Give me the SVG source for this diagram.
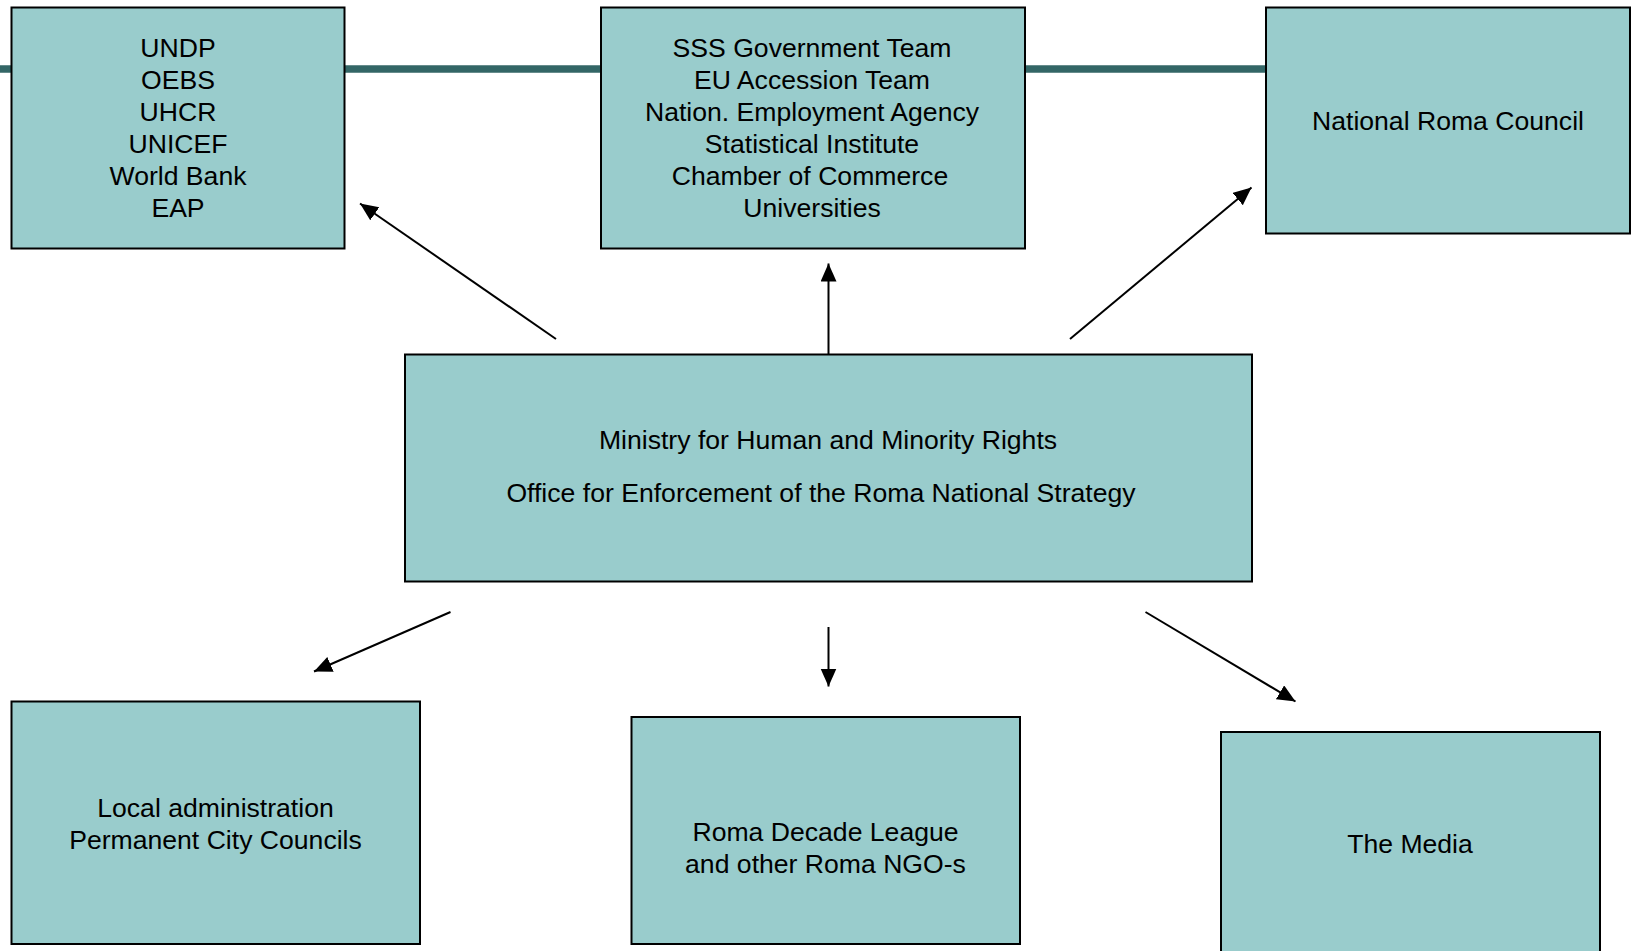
<svg xmlns="http://www.w3.org/2000/svg" width="1637" height="951" viewBox="0 0 1637 951">
  <style>
    .box { fill: #99CCCC; stroke: #000000; stroke-width: 2; }
    .lbl { font-family: "Liberation Sans", Arial, sans-serif; font-size: 26.6px; fill: #000000; text-anchor: middle; }
    .bar { stroke: #336666; stroke-width: 7.5; fill: none; }
    .arr { stroke: #000000; stroke-width: 2; fill: none; marker-end: url(#ah); }
  </style>
  <defs>
    <marker id="ah" markerUnits="userSpaceOnUse" markerWidth="19" markerHeight="17" refX="18" refY="8" orient="auto" viewBox="0 0 19 17">
      <path d="M0,0 L18,8 L0,16 Z" fill="#000000"/>
    </marker>
  </defs>
  <rect x="0" y="0" width="1637" height="951" fill="#ffffff"/>
  <g id="connectors">
    <line class="bar" x1="0" y1="69" x2="1266" y2="69"/>
    <line class="arr" x1="556" y1="339" x2="360" y2="203.5"/>
    <line class="arr" x1="828.5" y1="354" x2="828.5" y2="263.5"/>
    <line class="arr" x1="1070" y1="339" x2="1251.5" y2="187.5"/>
    <line class="arr" x1="450.5" y1="612" x2="314" y2="671.5"/>
    <line class="arr" x1="828.5" y1="627" x2="828.5" y2="686.5"/>
    <line class="arr" x1="1145.5" y1="612" x2="1295.5" y2="701.5"/>
  </g>
  <g id="node-intl">
    <rect class="box" x="11.5" y="7.5" width="333" height="241"/>
    <text class="lbl" x="178" y="57">UNDP</text>
    <text class="lbl" x="178" y="89">OEBS</text>
    <text class="lbl" x="178" y="121">UHCR</text>
    <text class="lbl" x="178" y="153">UNICEF</text>
    <text class="lbl" x="178" y="185">World Bank</text>
    <text class="lbl" x="178" y="217">EAP</text>
  </g>
  <g id="node-gov">
    <rect class="box" x="601" y="7.5" width="424" height="241"/>
    <text class="lbl" x="812" y="57">SSS Government Team</text>
    <text class="lbl" x="812" y="89">EU Accession Team</text>
    <text class="lbl" x="812" y="121">Nation. Employment Agency</text>
    <text class="lbl" x="812" y="153">Statistical Institute</text>
    <text class="lbl" x="810" y="185">Chamber of Commerce</text>
    <text class="lbl" x="812" y="217">Universities</text>
  </g>
  <g id="node-nrc">
    <rect class="box" x="1266" y="7.5" width="364" height="226"/>
    <text class="lbl" x="1448" y="130">National Roma Council</text>
  </g>
  <g id="node-ministry">
    <rect class="box" x="405" y="354.5" width="847" height="227"/>
    <text class="lbl" x="828" y="449">Ministry for Human and Minority Rights</text>
    <text class="lbl" x="821" y="502">Office for Enforcement of the Roma National Strategy</text>
  </g>
  <g id="node-local">
    <rect class="box" x="11.5" y="701.5" width="408.5" height="242.5"/>
    <text class="lbl" x="215.5" y="817">Local administration</text>
    <text class="lbl" x="215.5" y="849">Permanent City Councils</text>
  </g>
  <g id="node-ngo">
    <rect class="box" x="631.5" y="717" width="388.5" height="227"/>
    <text class="lbl" x="825.5" y="841">Roma Decade League</text>
    <text class="lbl" x="825.5" y="873">and other Roma NGO-s</text>
  </g>
  <g id="node-media">
    <rect class="box" x="1221" y="732" width="379" height="240"/>
    <text class="lbl" x="1410" y="853">The Media</text>
  </g>
</svg>
